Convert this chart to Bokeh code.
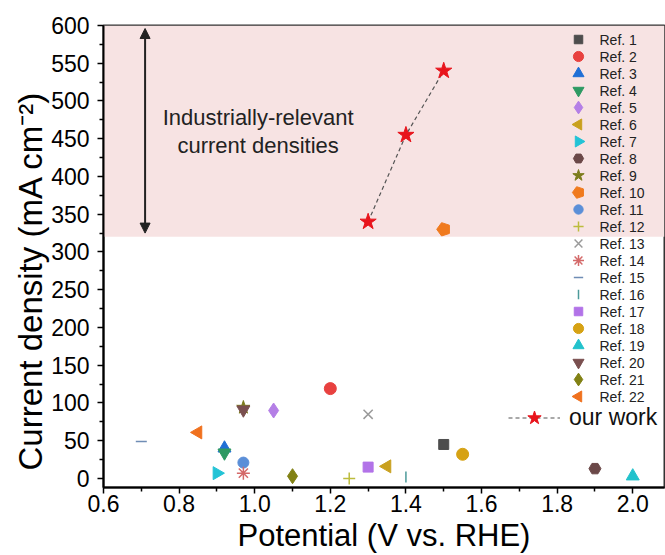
import numpy as np
from bokeh.plotting import figure
from bokeh.models import (BoxAnnotation, Label, Arrow, NormalHead, Legend, LegendItem,
                          FixedTicker, Range1d, ColumnDataSource, Title)
from bokeh.embed import file_html
from bokeh.resources import INLINE

# ---------------- data ----------------
ref_labels = [f"Ref. {i}" for i in range(1, 23)]
ref_x = [1.50, 1.20, 0.92, 0.92, 1.05, 1.35, 0.90, 1.90, 0.97, 1.50, 0.97,
         1.25, 1.30, 0.97, 0.70, 1.40, 1.30, 1.55, 2.00, 0.97, 1.10, 0.85]
ref_y = [45, 119, 40, 34, 90, 16, 7, 13, 94, 330, 21,
         0, 85, 7, 49, 2, 15, 32, 3, 91, 3, 61]
our_x = [1.3, 1.4, 1.5]
our_y = [340, 455, 540]
band_low, band_high = 320, 600
x_ticks = [0.6, 0.8, 1.0, 1.2, 1.4, 1.6, 1.8, 2.0]
x_minor = [0.7, 0.9, 1.1, 1.3, 1.5, 1.7, 1.9]
y_ticks = [0, 50, 100, 150, 200, 250, 300, 350, 400, 450, 500, 550, 600]
y_minor = [25, 75, 125, 175, 225, 275, 325, 375, 425, 475, 525, 575]

# marker style per reference: (marker, angle, color, size, kind)
styles = [
    ("square", 0, "#4d4d4d", 10, "fill"),
    ("circle", 0, "#e8413f", 12, "fill"),
    ("triangle", 0, "#1f6fd6", 13, "fill"),
    ("inverted_triangle", 0, "#2e9a63", 13, "fill"),
    ("diamond", 0, "#b47fe6", 15, "fill"),
    ("triangle", np.pi / 2, "#c9a01e", 13, "fill"),
    ("triangle", -np.pi / 2, "#22c3d6", 13, "fill"),
    ("hex", 0, "#6b4848", 12, "fill"),
    ("star", 0, "#7c7c1c", 14, "fill"),
    ("ngon", 0, "#f07a1e", 12, "fill"),
    ("circle", 0, "#5b8fd8", 11, "fill"),
    ("cross", 0, "#bcbc3c", 12, "line"),
    ("x", 0, "#9a9a9a", 13, "line"),
    ("asterisk", 0, "#d46a6a", 13, "line"),
    ("dash", 0, "#6f8db5", 11, "line"),
    ("dash", np.pi / 2, "#4c9a9a", 11, "line"),
    ("square", 0, "#b273e8", 10, "fill"),
    ("circle", 0, "#d6a214", 12, "fill"),
    ("triangle", 0, "#22c2cc", 13, "fill"),
    ("inverted_triangle", 0, "#7a4f4f", 13, "fill"),
    ("diamond", 0, "#818114", 15, "fill"),
    ("triangle", np.pi / 2, "#f0711e", 13, "fill"),
]

X0, X1 = 0.6, 2.084
Y0, Y1 = -12, 600
FW, FH = 561, 462
FL, FT = 103, 25


def px_x(px):
    return X0 + (px - FL) * (X1 - X0) / FW


def px_y(py):
    return Y1 - (py - FT) * (Y1 - Y0) / FH


p = figure(frame_width=FW, frame_height=FH, x_range=Range1d(X0, X1), y_range=Range1d(Y0, Y1),
           output_backend="svg", toolbar_location=None,
           min_border_left=FL, min_border_right=1, min_border_top=FT, min_border_bottom=66)
p.grid.visible = False
p.outline_line_color = "#333333"
p.outline_line_width = 2
p.background_fill_color = "white"
p.border_fill_color = "white"

p.xaxis.ticker = FixedTicker(ticks=x_ticks, minor_ticks=x_minor)
p.yaxis.ticker = FixedTicker(ticks=y_ticks, minor_ticks=y_minor)
p.xaxis.major_label_overrides = {t: f"{t:.1f}" for t in x_ticks}
for ax in (p.xaxis[0], p.yaxis[0]):
    ax.axis_line_color = "black"
    ax.axis_line_width = 2
    ax.major_tick_line_color = "black"
    ax.major_tick_line_width = 1.5
    ax.minor_tick_line_color = "black"
    ax.minor_tick_line_width = 1.5
    ax.major_tick_in = 0
    ax.major_tick_out = 6
    ax.minor_tick_in = 0
    ax.minor_tick_out = 4
    ax.major_label_text_font = "Liberation Sans"
    ax.major_label_text_font_size = "23px"
    ax.major_label_text_color = "black"
p.xaxis.major_label_standoff = 1
p.yaxis.major_label_standoff = 8

p.xaxis.axis_label = "Potential (V vs. RHE)"
p.xaxis.axis_label_text_font = "Liberation Sans"
p.xaxis.axis_label_text_font_size = "31px"
p.xaxis.axis_label_text_font_style = "normal"
p.xaxis.axis_label_text_color = "black"
p.xaxis.axis_label_standoff = 3

p.add_layout(Title(text="Current density (mA cm\u207b\u00b2)", align="left", offset=17,
                   text_font="Liberation Sans", text_font_size="33px", text_font_style="normal",
                   text_color="black", standoff=0), "left")

# pink band
p.add_layout(BoxAnnotation(bottom=band_low, top=band_high, fill_color="#f7e3e3", fill_alpha=1.0,
                           line_alpha=0, level="underlay"))

# double arrow
p.add_layout(Arrow(x_start=0.71, y_start=325, x_end=0.71, y_end=596, line_width=2, line_color="#222222",
                   start=NormalHead(size=10, fill_color="#222222", line_color="#222222"),
                   end=NormalHead(size=10, fill_color="#222222", line_color="#222222")))

p.add_layout(Label(x=1.009, y=478, text="Industrially-relevant", text_align="center",
                   text_baseline="middle", text_font="Liberation Sans", text_font_size="22px",
                   text_color="#222222"))
p.add_layout(Label(x=1.009, y=441, text="current densities", text_align="center",
                   text_baseline="middle", text_font="Liberation Sans", text_font_size="22px",
                   text_color="#222222"))


def draw_marker(xs, ys, st, scale=1.0):
    marker, ang, col, size, kind = st
    size = size * scale
    src = ColumnDataSource(dict(x=xs, y=ys))
    if marker == "ngon" and hasattr(p, "ngon"):
        return p.ngon(x="x", y="y", radius=size / 2 + 1, radius_units="screen", n=5, angle=np.pi / 2,
                      source=src, fill_color=col, line_color=col)
    if marker == "ngon":
        marker = "hex"
    if kind == "fill":
        return p.scatter(x="x", y="y", source=src, marker=marker, angle=ang, size=size,
                         fill_color=col, line_color=col)
    return p.scatter(x="x", y="y", source=src, marker=marker, angle=ang, size=size,
                     line_color=col, line_width=1.5, fill_alpha=0)


# reference points
for lab, x, y, st in zip(ref_labels, ref_x, ref_y, styles):
    draw_marker([x], [y], st)

# legend (drawn manually, one row per reference)
LEG_X, LEG_TOP, LEG_STEP = 578, 39, 17
for i, (lab, st) in enumerate(zip(ref_labels, styles)):
    ly = px_y(LEG_TOP + LEG_STEP * i)
    draw_marker([px_x(LEG_X)], [ly], st, scale=0.85)
    p.add_layout(Label(x=px_x(LEG_X + 21), y=ly, text=lab, text_align="left", text_baseline="middle",
                       text_font="Liberation Sans", text_font_size="14px", text_color="#222222"))

# our work
our_src = ColumnDataSource(dict(x=our_x, y=our_y))
lr = p.line(x="x", y="y", source=our_src, line_color="#555555", line_dash="4 3", line_width=1.2)
sr = p.scatter(x="x", y="y", source=our_src, marker="star", size=17, fill_color="#e8141c",
               line_color="#e8141c")

leg2 = Legend(items=[LegendItem(label="our work", renderers=[lr, sr])], location=(405, 52),
              glyph_width=52, glyph_height=35, label_standoff=9, padding=0, margin=0,
              label_text_font="Liberation Sans", label_text_font_size="23px",
              label_text_color="#111111", background_fill_alpha=0, border_line_alpha=0)
p.add_layout(leg2)

open("out.html", "w").write(file_html(p, INLINE))
